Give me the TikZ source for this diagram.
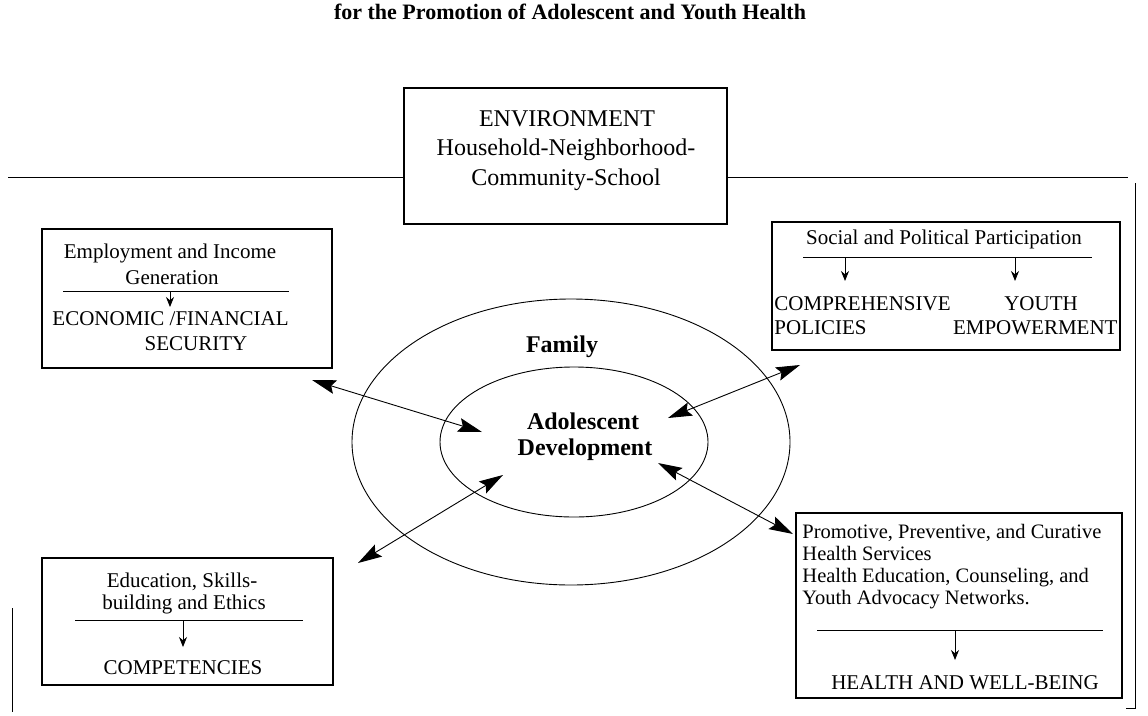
\documentclass[tikz,border=0pt]{standalone}
\usepackage{fontspec}
\setmainfont{Liberation Serif}
\usetikzlibrary{arrows.meta}
\usetikzlibrary{shapes.geometric}

\begin{document}
\begin{tikzpicture}[x=1pt, y=-1pt, line width=0.9pt,
    box/.style={draw, line width=1.1pt, inner sep=0pt},
    txt/.style={inner sep=0pt, font=\fontsize{21}{21}\selectfont},
    bold/.style={inner sep=0pt, font=\fontsize{24}{29}\selectfont\bfseries},
    link/.style={{Stealth[length=24pt,width=14pt,inset=4pt]}-{Stealth[length=24pt,width=14pt,inset=4pt]}},
    down/.style={-{Stealth[length=10pt,width=8pt]}}]

      \useasboundingbox (0,0) rectangle (1148,715);

      \node[inner sep=0pt, font=\fontsize{22}{24}\selectfont\bfseries] (title) at (570,12)
        {for the Promotion of Adolescent and Youth Health};

      % environment and the frame round it
      \node[box, minimum width=323pt, minimum height=136pt] (env) at (565.5,156) {};
      \node[txt, font=\fontsize{24}{24}\selectfont] (envA) at (567,119) {ENVIRONMENT};
      \node[txt, font=\fontsize{24}{24}\selectfont] (envB) at (566,150) {Household-Neighborhood-};
      \node[txt, font=\fontsize{24}{24}\selectfont] (envC) at (566,180) {Community-School};
      \coordinate (frameL) at (8,177);
      \coordinate (frameR) at (1128,177);
      \draw (frameL) -- (env.west |- frameL);
      \draw (env.east |- frameR) -- (frameR);
      \draw (1135,183) -- (1135,708) -- (1126,708);
      \draw (12,608) -- (12,712);

      % family and adolescent
      \node[draw, ellipse, minimum width=438pt, minimum height=286pt, inner sep=0pt] (family) at (571,442) {};
      \node[draw, ellipse, minimum width=268pt, minimum height=150pt, inner sep=0pt] (adol) at (574,442) {};
      \node[bold] (famtxt) at (562,347) {Family};
      \node[bold] (adoltxtA) at (583,421) {Adolescent};
      \node[bold] (adoltxtB) at (585,450) {Development};

      % employment
      \node[box, minimum width=290pt, minimum height=139pt] (emp) at (187,298.5) {};
      \node[txt] (empA) at (170,253) {Employment and Income};
      \node[txt] (empB) at (172,278) {Generation};
      \coordinate (empL) at (63,291);
      \coordinate (empR) at (289,291);
      \draw (empL) -- (empR);
      \draw[down] (empL -| empA) -- ++(0,16);
      \node[txt, anchor=west] (empC) at (52,319) {ECONOMIC /FINANCIAL};
      \node[txt] (empD) at (196,344) {SECURITY};

      % social and political
      \node[box, minimum width=348pt, minimum height=128pt] (soc) at (946,286) {};
      \node[txt] (socA) at (944,239) {Social and Political Participation};
      \coordinate (socL) at (803,257);
      \coordinate (socR) at (1092,257);
      \draw (socL) -- (socR);
      \foreach \x in {845,1015}
        \draw[down] (\x,257) -- (\x,281);
      \node[txt, anchor=west] (socB) at (774,304) {COMPREHENSIVE};
      \node[txt, anchor=west] (socC) at (774,328) {POLICIES};
      \node[txt] (socD) at (1041,304) {YOUTH};
      \node[txt, anchor=east] (socE) at (1118,328) {EMPOWERMENT};

      % education
      \node[box, minimum width=291pt, minimum height=127pt] (edu) at (187.5,621.5) {};
      \node[txt] (eduA) at (182,582) {Education, Skills-};
      \node[txt] (eduB) at (184,604) {building and Ethics};
      \coordinate (eduL) at (75,620);
      \coordinate (eduR) at (303,620);
      \draw (eduL) -- (eduR);
      \draw[down] (183,620) -- (183,647);
      \node[txt] (eduC) at (183,668) {COMPETENCIES};

      % health
      \node[box, minimum width=326pt, minimum height=185pt] (hea) at (959,605.5) {};
      \foreach \n/\y/\t in {heaA/538/{Promotive, Preventive, and Curative},
                            heaB/560/{Health Services},
                            heaC/582/{Health Education, Counseling, and},
                            heaD/604/{Youth Advocacy Networks.}}
        \node[txt, font=\fontsize{20.5}{21}\selectfont, anchor=base west] (\n) at (802,\y) {\t};
      \coordinate (heaL) at (817,630);
      \coordinate (heaR) at (1103,630);
      \draw (heaL) -- (heaR);
      \draw[down] (955,630) -- (955,660);
      \node[txt] (heaE) at (965,683) {HEALTH AND WELL-BEING};

      % links to the adolescent
      \coordinate (toemp) at (312,380);
      \coordinate (tosoc) at (800,365);
      \coordinate (toedu) at (358,563);
      \coordinate (tohea) at (793,534);
      \coordinate (inemp) at (482,432);
      \coordinate (insoc) at (668,418);
      \coordinate (inedu) at (503,475);
      \coordinate (inhea) at (658,463);
      \foreach \a/\b in {toemp/inemp, tosoc/insoc, toedu/inedu, tohea/inhea}
        \draw[link] (\a) -- (\b);
    \end{tikzpicture}
\end{document}
